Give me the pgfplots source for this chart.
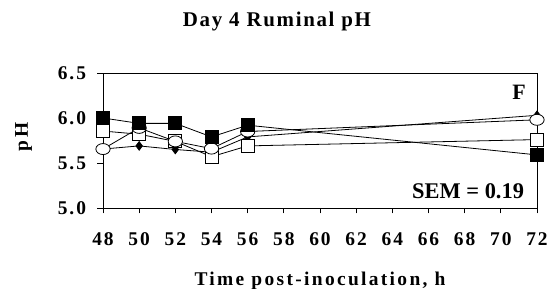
\documentclass[border=0pt]{standalone}
\usepackage{pgfplots}
\pgfplotsset{compat=1.18}
\usepackage{fontspec}
\setmainfont{Liberation Serif}
\newfontfamily\plainserif{Liberation Serif}
\newfontfamily\tickfont{Liberation Serif}[LetterSpace=10]
\newfontfamily\labfont{Liberation Serif}[LetterSpace=12]
\newfontfamily\titfont{Liberation Serif}[LetterSpace=8]
\begin{document}
\begin{tikzpicture}
\useasboundingbox (0,0) rectangle (554bp,289bp);
\node[anchor=base, font=\fontsize{21}{21}\selectfont\titfont\bfseries, inner sep=0pt] at (277bp,262bp) {Day 4 Ruminal pH};
\begin{axis}[
  at={(103bp,81bp)}, anchor=south west,
  scale only axis, width=434bp, height=135bp,
  xmin=48, xmax=72, ymin=5, ymax=6.5,
  xtick={48,50,...,72}, ytick={5,5.5,6,6.5},
  yticklabel style={/pgf/number format/fixed, /pgf/number format/fixed zerofill, /pgf/number format/precision=1, xshift=-8bp},
  /pgf/number format/assume math mode=true,
  tick align=outside, tick pos=left, major tick length=5.5bp,
  axis line style={line width=0.9bp},
  tick style={line width=0.8bp, black},
  tick label style={font=\fontsize{19.5}{19.5}\selectfont\tickfont\bfseries},
  xticklabel style={yshift=-16bp},
  xlabel={Time post-inoculation, h},
  xlabel style={at={(axis description cs:0.5,-0.574)}, anchor=base, font=\fontsize{19.5}{19.5}\selectfont\labfont\bfseries, inner sep=0pt},
  ylabel={pH},
  ylabel style={at={(axis description cs:-0.183,0.526)}, anchor=center, font=\fontsize{19.5}{19.5}\selectfont\labfont\bfseries, inner sep=0pt},
  every axis plot/.append style={black, line width=0.8bp},
  clip=false,
]
% diamond series
\addplot[mark=diamond*, mark size=4.3bp, mark options={fill=black}] coordinates {
 (48,5.655) (50,5.69) (52,5.65) (54,5.62) (56,5.79) (72,6.03)};
% open square series
\addplot[mark=square*, mark size=6.5bp, mark options={fill=white}] coordinates {
 (48,5.855) (50,5.82) (52,5.74) (54,5.57) (56,5.69) (72,5.76)};
% circle series
\addplot[mark=*, mark size=5.5bp, mark options={fill=white, xscale=1.3}] coordinates {
 (48,5.655) (50,5.89) (52,5.74) (54,5.66) (56,5.85) (72,5.98)};
% filled square series
\addplot[mark=square*, mark size=6.5bp, mark options={fill=black}] coordinates {
 (48,6.00) (50,5.94) (52,5.94) (54,5.79) (56,5.92) (72,5.59)};
\node[anchor=base east, font=\fontsize{22}{22}\selectfont\plainserif\bfseries, inner sep=0pt] at (rel axis cs:0.9747,0.80) {F};
\node[anchor=base east, font=\fontsize{22.5}{22.5}\selectfont\plainserif\bfseries, inner sep=0pt] at (rel axis cs:0.9705,0.074) {SEM = 0.19};
\end{axis}
\end{tikzpicture}
\end{document}
